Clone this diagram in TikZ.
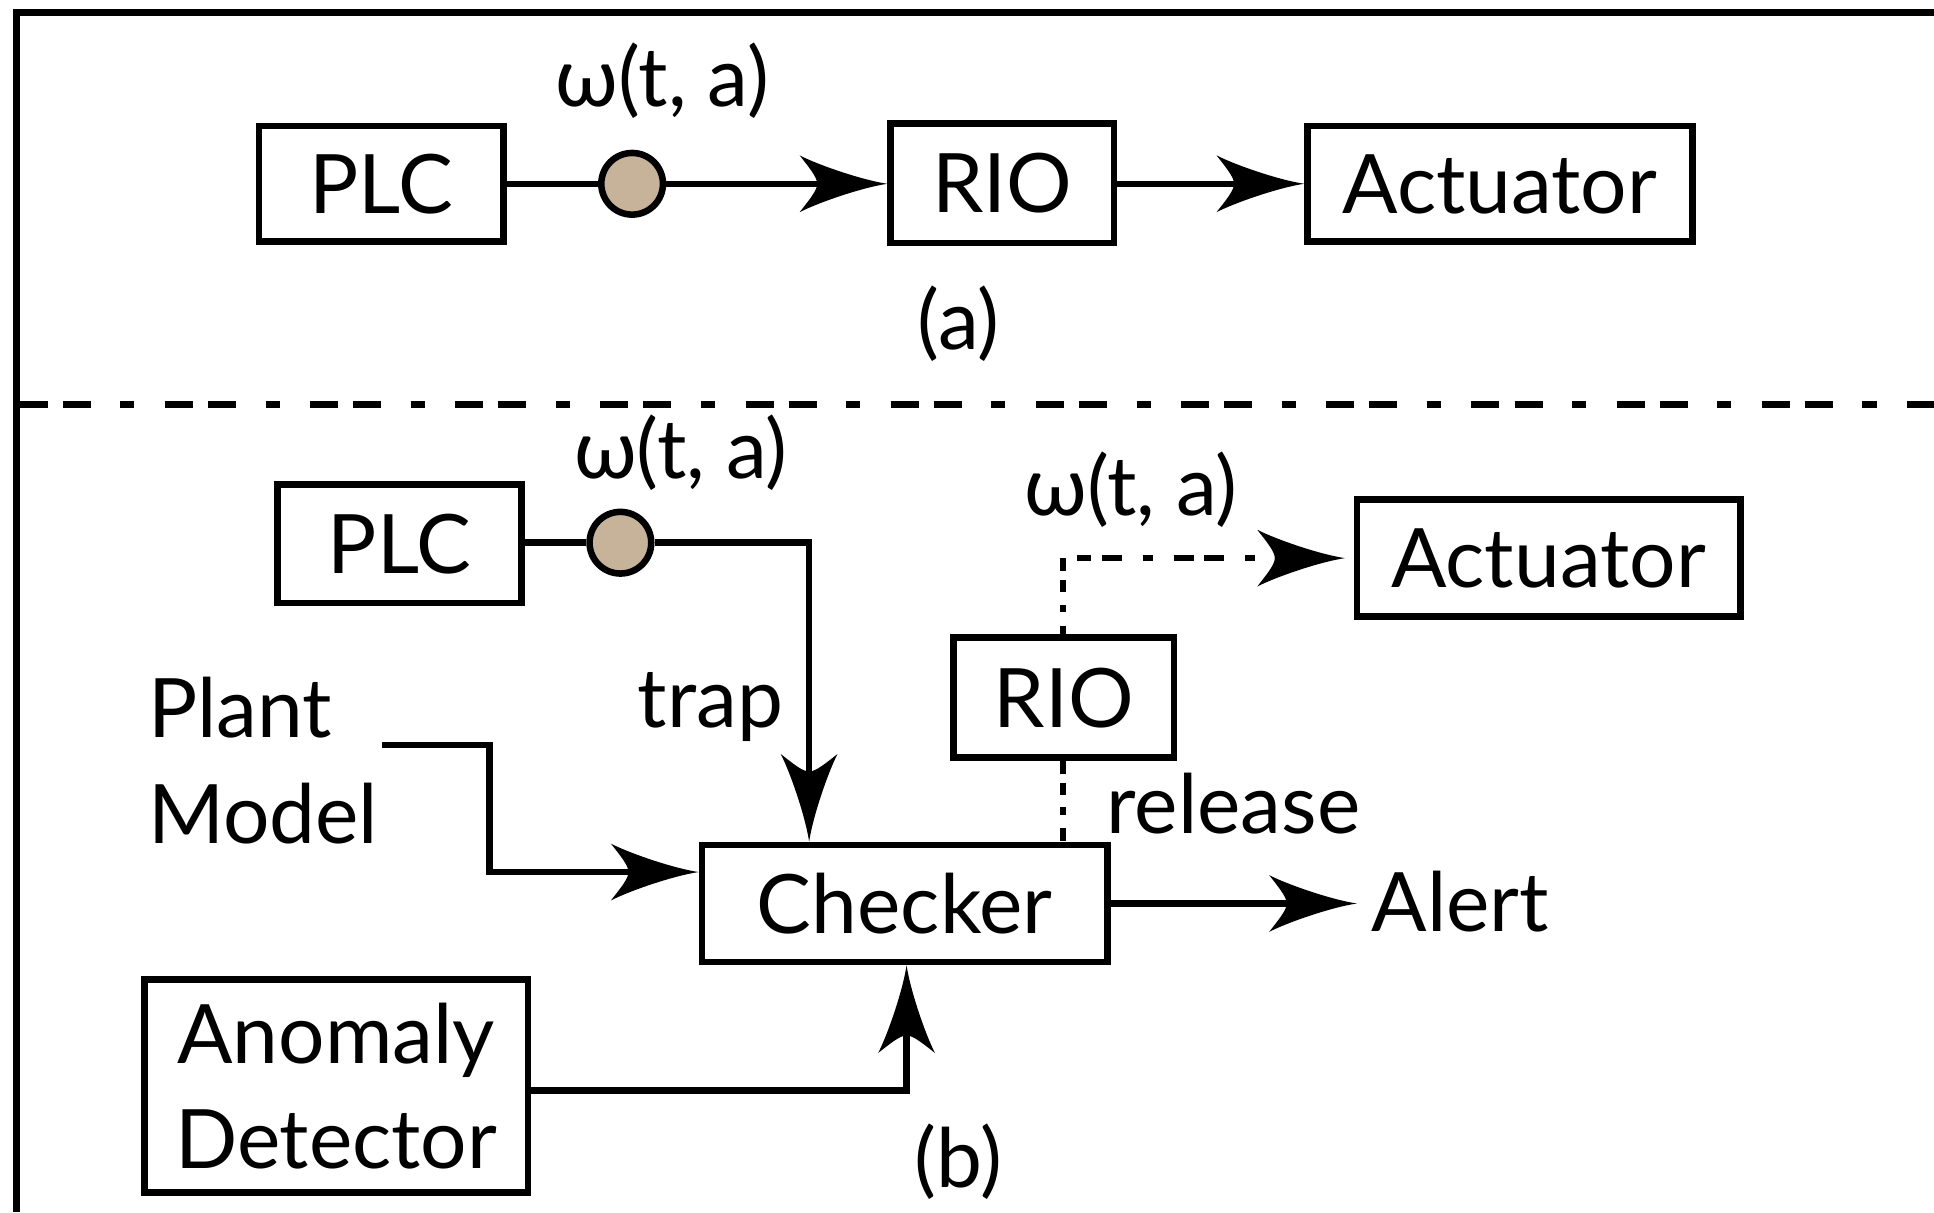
\documentclass[tikz,border=0pt]{standalone}
\usepackage{fontspec}
\setmainfont{Lato}
\usetikzlibrary{arrows.meta}
\definecolor{tokenfill}{RGB}{199,178,154}

% barbed arrow head with concave flanks and a curved notch
\pgfdeclarearrow{
  name = Barb,
  defaults = {length = 70pt, width = 42pt},
  setup code = {
    \pgfarrowssettipend{0pt}
    \pgfarrowssetlineend{-0.76\pgfarrowlength}
    \pgfarrowssetbackend{-\pgfarrowlength}
    \pgfarrowshullpoint{0pt}{0pt}
    \pgfarrowshullpoint{-\pgfarrowlength}{0.5\pgfarrowwidth}
    \pgfarrowshullpoint{-\pgfarrowlength}{-0.5\pgfarrowwidth}
    \pgfarrowssavethe\pgfarrowlength
    \pgfarrowssavethe\pgfarrowwidth
  },
  drawing code = {
    \pgfpathmoveto{\pgfqpoint{0pt}{0pt}}
    \pgfpathcurveto{\pgfpoint{-0.3\pgfarrowlength}{0.07\pgfarrowwidth}}
                   {\pgfpoint{-0.8\pgfarrowlength}{0.34\pgfarrowwidth}}
                   {\pgfpoint{-\pgfarrowlength}{0.5\pgfarrowwidth}}
    \pgfpathcurveto{\pgfpoint{-0.9\pgfarrowlength}{0.3\pgfarrowwidth}}
                   {\pgfpoint{-0.8\pgfarrowlength}{0.12\pgfarrowwidth}}
                   {\pgfpoint{-0.8\pgfarrowlength}{0pt}}
    \pgfpathcurveto{\pgfpoint{-0.8\pgfarrowlength}{-0.12\pgfarrowwidth}}
                   {\pgfpoint{-0.9\pgfarrowlength}{-0.3\pgfarrowwidth}}
                   {\pgfpoint{-\pgfarrowlength}{-0.5\pgfarrowwidth}}
    \pgfpathcurveto{\pgfpoint{-0.8\pgfarrowlength}{-0.34\pgfarrowwidth}}
                   {\pgfpoint{-0.3\pgfarrowlength}{-0.07\pgfarrowwidth}}
                   {\pgfqpoint{0pt}{0pt}}
    \pgfpathclose
    \pgfusepathqfill
  },
  parameters = {\the\pgfarrowlength,\the\pgfarrowwidth},
}

\tikzset{
  boxbase/.style={draw, line width=5.3pt, inner sep=0pt},
  box/.style={boxbase, text height=48pt, text depth=0pt},
  conn/.style={line width=5.3pt},
  arr/.style={conn, -{Barb[length=71pt,width=46pt]}},
  token/.style={circle, draw, fill=tokenfill, line width=5.3pt, minimum size=50pt, inner sep=0pt},
  lbl/.style={inner sep=0pt, anchor=base},
  sepdash/.style={line width=5.3pt, dash pattern=on 22.7pt off 12.2pt on 22.7pt off 24pt on 11.4pt off 24.7pt},
  longdash/.style={line width=5.3pt, dash pattern=on 16.2pt off 8.7pt on 16.2pt off 16.8pt on 8.1pt off 17pt},
  shortdash/.style={line width=5.3pt, dash pattern=on 10.5pt off 7.3pt on 9.7pt off 10.5pt on 5.7pt off 11.3pt}
}
\begin{document}
\begin{tikzpicture}[x=1pt, y=1pt, font=\fontsize{66.5}{85}\selectfont]
\useasboundingbox (0,0) rectangle (1568,-983);

% outer frame and separator
\draw[line width=5.4pt] (13.4,-983) -- (13.4,-10) -- (1568,-10);
\draw[sepdash] (16,-328) -- (1568,-328);

% ---- (a) direct path
\node[box, minimum width=198pt, minimum height=94pt] (plcA) at (309,-149) {PLC};
\node[token] (dotA) at (512.5,-149) {};
\node[box, minimum width=181pt, minimum height=97pt] (rioA) at (812.5,-148.5) {RIO};
\node[box, minimum width=312pt, minimum height=94pt] (actA) at (1216,-149) {Actuator};
\node[lbl] (omegaA) at (537,-86) {ω(t, a)};
\node[lbl] (capA) at (777,-283) {(a)};

\draw[conn] (plcA.east) -- (dotA.west);
\draw[arr] (dotA.east) -- (rioA.west |- dotA.east);
\draw[arr] (rioA.east |- dotA.east) -- (actA.west |- dotA.east);

% ---- (b) trapped path through the checker
\node[box, minimum width=198pt, minimum height=96pt] (plcB) at (324,-441) {PLC};
\node[token] (dotB) at (503,-440) {};
\node[lbl] (omegaB) at (552,-388) {ω(t, a)};
\node[box, minimum width=329pt, minimum height=95pt] (chk) at (733.5,-732.5) {Checker};
\node[lbl] (trap) at (576,-590) {trap};
\node[lbl, anchor=base west] (plant) at (120,-598) {Plant};
\node[lbl, anchor=base west] (model) at (120,-684) {Model};
\node[boxbase, minimum width=311pt, minimum height=173pt, align=center] (anom) at (272.5,-880.5) {Anomaly\\Detector};
\node[box, minimum width=179pt, minimum height=97pt] (rioB) at (862.5,-565.5) {RIO};
\node[box, minimum width=311pt, minimum height=95pt] (actB) at (1255.5,-452.5) {Actuator};
\node[lbl] (omegaC) at (917,-418) {ω(t, a)};
\node[lbl, anchor=base west] (rel) at (897,-676) {release};
\node[lbl, anchor=base west] (alert) at (1112,-755) {Alert};
\node[lbl] (capB) at (777,-963) {(b)};
\coordinate (pmOut) at (310,-604);
\coordinate (corner) at (861.8,-452.5);

\draw[conn] (plcB.east |- dotB) -- (dotB.west);
\draw[arr] (dotB.east) -| ([xshift=-77.5pt]chk.north);
\draw[arr] (pmOut) -- ++(87,0) |- ([yshift=25.5pt]chk.west);
\draw[arr] ([yshift=-3.5pt]anom.east) -| ([xshift=1.5pt]chk.south);
\draw[arr, shorten >=12pt] (chk.east) -- (chk.east -| alert.west);
\draw[shortdash] (rioB.south -| corner) -- (chk.north -| corner);
\draw[shortdash] (corner) -- (rioB.north -| corner);
\draw[longdash, dash phase=4.3pt, -{Barb[length=71pt,width=46pt]}, shorten >=7pt]
  ([xshift=11pt]corner) -- (actB.west |- corner);
\end{tikzpicture}
\end{document}
